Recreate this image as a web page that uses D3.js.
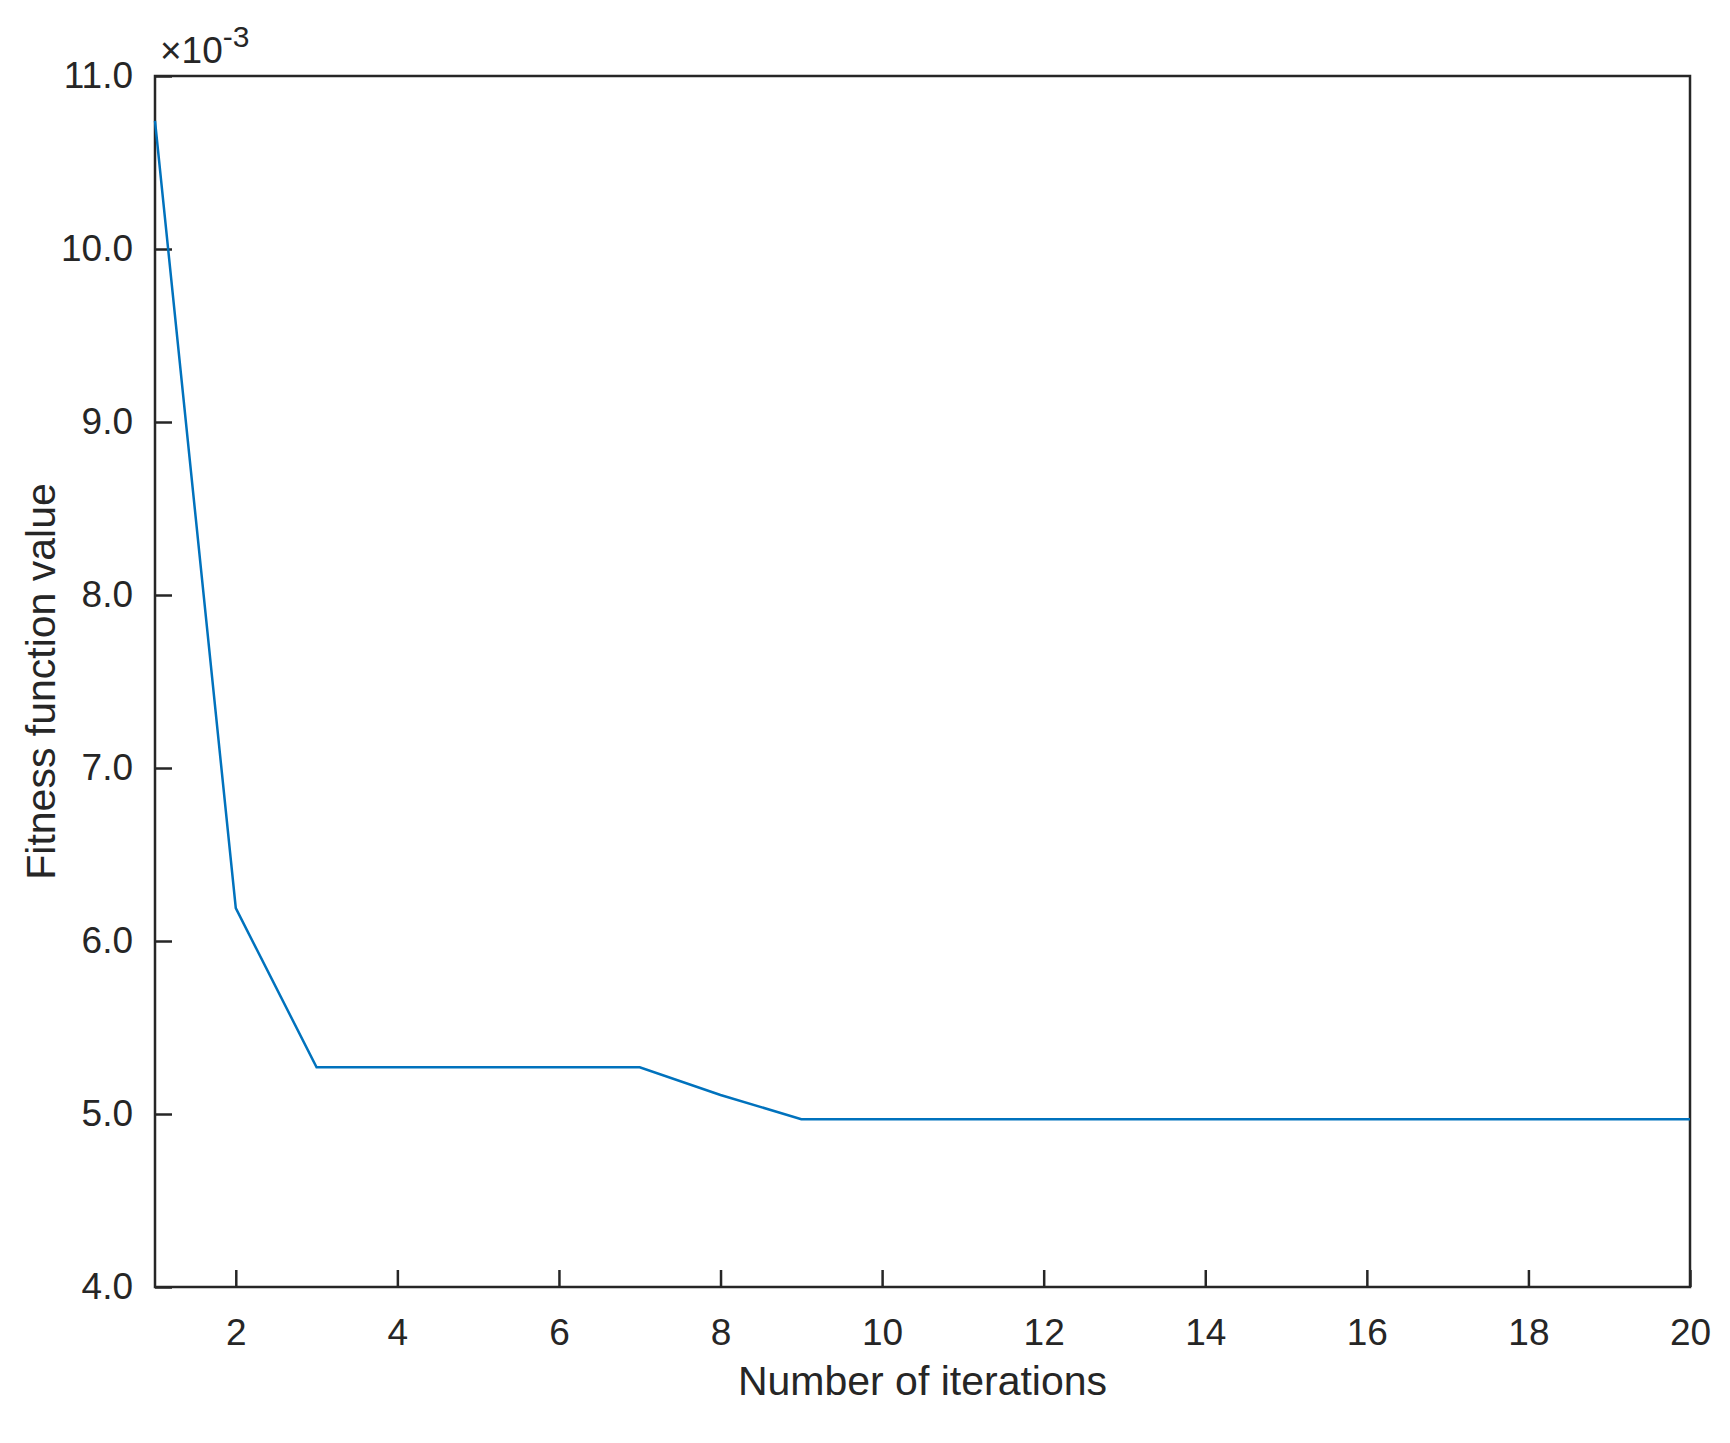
<!DOCTYPE html>
<html><head><meta charset="utf-8">
<script src="https://cdn.jsdelivr.net/npm/d3@7"></script>
<style>body{margin:0;background:#fff}text{font-family:"Liberation Sans",Arial,sans-serif;fill:#262626}</style>
</head><body>
<script>
var width = 1730, height = 1443;
var iterations = d3.range(1, 21);
var fitness = [10.74, 6.19, 5.27, 5.27, 5.27, 5.27, 5.27, 5.11, 4.97, 4.97, 4.97, 4.97, 4.97, 4.97, 4.97, 4.97, 4.97, 4.97, 4.97, 4.97];
var xTicks = [2, 4, 6, 8, 10, 12, 14, 16, 18, 20];
var yTicks = [4, 5, 6, 7, 8, 9, 10, 11];

var plotLeft = 155, plotRight = 1690, plotTop = 76, plotBottom = 1287;
var svg = d3.select("body").append("svg").attr("width", width).attr("height", height);

var x = d3.scaleLinear().domain([1, 20]).range([plotLeft, plotRight]);
var y = d3.scaleLinear().domain([4, 11]).range([plotBottom, plotTop]);

// axes, ticks pointing inward
var gx = svg.append("g").attr("transform", "translate(0," + plotBottom + ")")
  .call(d3.axisBottom(x).tickValues(xTicks).tickSize(-17).tickSizeOuter(0).tickPadding(32));
var gy = svg.append("g").attr("transform", "translate(" + plotLeft + ",0)")
  .call(d3.axisLeft(y).tickValues(yTicks).tickSize(-17).tickSizeOuter(0).tickPadding(22));
[gx, gy].forEach(function(g){
  g.select(".domain").remove();
  g.selectAll("line").attr("stroke", "#262626").attr("stroke-width", 2.5);
  g.selectAll("text").style("font-size", "37px").attr("fill", "#262626");
});

// box
svg.append("rect").attr("x", plotLeft).attr("y", plotTop).attr("width", plotRight - plotLeft).attr("height", plotBottom - plotTop)
  .attr("fill", "none").attr("stroke", "#262626").attr("stroke-width", 2.5);

var line = d3.line().x(function(d, i){ return x(iterations[i]); }).y(function(d){ return y(d); });
svg.append("path").datum(fitness).attr("d", line).attr("fill", "none")
  .attr("stroke", "#0072BD").attr("stroke-width", 2.5);

// exponent label
var ex = svg.append("text").attr("x", 160).attr("y", 63).style("font-size", "37px");
ex.append("tspan").text("\u00d710");
ex.append("tspan").attr("dy", -16).style("font-size", "30px").text("-3");

svg.append("text").attr("x", (plotLeft + plotRight) / 2).attr("y", 1395).attr("text-anchor", "middle")
  .style("font-size", "41px").text("Number of iterations");
svg.append("text").attr("transform", "translate(55," + (plotTop + plotBottom) / 2 + ") rotate(-90)")
  .attr("text-anchor", "middle").style("font-size", "41px").text("Fitness function value");
</script>
</body></html>
